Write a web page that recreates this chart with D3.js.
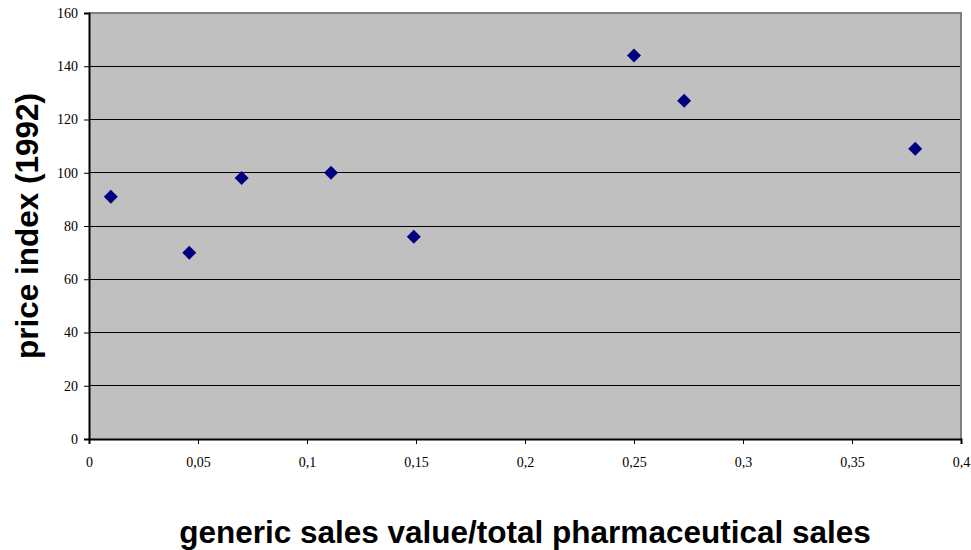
<!DOCTYPE html>
<html><head><meta charset="utf-8">
<script src="https://cdn.jsdelivr.net/npm/d3@7"></script>
<style>body{margin:0;background:#fff}svg{display:block}</style>
</head><body>
<script>
const xValues = [0.010, 0.046, 0.070, 0.111, 0.149, 0.250, 0.273, 0.379];
const yValues = [91, 70, 98, 100, 76, 144, 127, 109];
const xTicks = [0, 0.05, 0.1, 0.15, 0.2, 0.25, 0.3, 0.35, 0.4];
const yTicks = [0, 20, 40, 60, 80, 100, 120, 140, 160];
const xTitle = "generic sales value/total pharmaceutical sales";
const yTitle = "price index (1992)";

const W = 971, H = 550;
const m = {left: 89, right: 10, top: 13, bottom: 111};
const svg = d3.select("body").append("svg").attr("width", W).attr("height", H);
const x = d3.scaleLinear().domain([0, 0.4]).range([m.left, W - m.right]);
const y = d3.scaleLinear().domain([0, 160]).range([H - m.bottom, m.top]);

svg.append("rect").attr("x", x(0)).attr("y", y(160)).attr("width", x(0.4) - x(0))
  .attr("height", y(0) - y(160)).attr("fill", "#c0c0c0");

// gridlines
svg.append("g").selectAll("line").data(yTicks.filter(d => d > 0 && d < 160)).join("line")
  .attr("x1", x(0)).attr("x2", x(0.4)).attr("y1", d => y(d)).attr("y2", d => y(d))
  .attr("stroke", "#000").attr("stroke-width", 1).attr("shape-rendering", "crispEdges");

// border top/right
svg.append("path").attr("d", `M${x(0)},${y(160)}H${x(0.4)}V${y(0)}`)
  .attr("fill", "none").attr("stroke", "#808080").attr("stroke-width", 2);

const fmt = d => String(d).replace(".", ",");
const yAxis = svg.append("g").attr("transform", `translate(${x(0)},0)`)
  .call(d3.axisLeft(y).tickValues(yTicks).tickSize(5).tickPadding(6).tickFormat(fmt));
const xAxis = svg.append("g").attr("transform", `translate(0,${y(0)})`)
  .call(d3.axisBottom(x).tickValues(xTicks).tickSize(5).tickPadding(13).tickFormat(fmt));
[yAxis, xAxis].forEach(g => {
  g.select(".domain").attr("stroke", "#000").attr("stroke-width", 2);
  g.selectAll(".tick line").attr("stroke", "#000");
  g.selectAll("text").attr("font-family", "'Liberation Serif', 'Times New Roman', serif")
    .attr("font-size", 14).attr("fill", "#000");
});

// markers
svg.append("g").selectAll("path").data(xValues.map((v, i) => [v, yValues[i]])).join("path")
  .attr("transform", d => `translate(${x(d[0])},${y(d[1])})`)
  .attr("d", "M0,-7L7,0L0,7L-7,0Z")
  .attr("fill", "#000080");

svg.append("text").attr("x", (x(0) + x(0.4)) / 2).attr("y", 543)
  .attr("text-anchor", "middle").attr("font-family", "'Liberation Sans', Arial, sans-serif")
  .attr("font-weight", "bold").attr("font-size", 31.5).text(xTitle);
svg.append("text").attr("transform", `translate(38,${(y(0) + y(160)) / 2}) rotate(-90)`)
  .attr("text-anchor", "middle").attr("font-family", "'Liberation Sans', Arial, sans-serif")
  .attr("font-weight", "bold").attr("font-size", 31.5).text(yTitle);
</script>
</body></html>
